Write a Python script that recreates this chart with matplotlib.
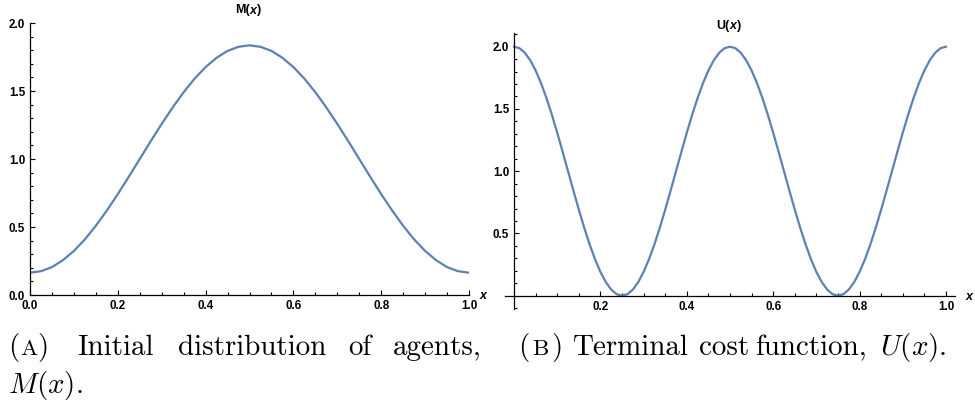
import numpy as np
import matplotlib
matplotlib.use('Agg')
import matplotlib.pyplot as plt
from matplotlib.ticker import MultipleLocator, FixedLocator, FuncFormatter

# M(x): initial distribution, read at x = 0, 0.025, ..., 1
m_x = np.linspace(0, 1, 41)
m_vals = [0.164, 0.175, 0.205, 0.256, 0.324, 0.409, 0.509, 0.621, 0.742, 0.869,
          1.000, 1.131, 1.258, 1.379, 1.491, 1.591, 1.676, 1.744, 1.795, 1.825,
          1.836,
          1.825, 1.795, 1.744, 1.676, 1.591, 1.491, 1.379, 1.258, 1.131, 1.000,
          0.869, 0.742, 0.621, 0.509, 0.409, 0.324, 0.256, 0.205, 0.175, 0.164]

# U(x): terminal cost, read at x = 0, 0.0125, ..., 1
u_x = np.linspace(0, 1, 81)
u_vals = [2.000, 1.988, 1.951, 1.891, 1.809, 1.707, 1.588, 1.454, 1.309, 1.156,
          1.000, 0.844, 0.691, 0.546, 0.412, 0.293, 0.191, 0.109, 0.049, 0.012,
          0.000, 0.012, 0.049, 0.109, 0.191, 0.293, 0.412, 0.546, 0.691, 0.844,
          1.000, 1.156, 1.309, 1.454, 1.588, 1.707, 1.809, 1.891, 1.951, 1.988,
          2.000, 1.988, 1.951, 1.891, 1.809, 1.707, 1.588, 1.454, 1.309, 1.156,
          1.000, 0.844, 0.691, 0.546, 0.412, 0.293, 0.191, 0.109, 0.049, 0.012,
          0.000, 0.012, 0.049, 0.109, 0.191, 0.293, 0.412, 0.546, 0.691, 0.844,
          1.000, 1.156, 1.309, 1.454, 1.588, 1.707, 1.809, 1.891, 1.951, 1.988,
          2.000]

m_xticks = [0.0, 0.2, 0.4, 0.6, 0.8, 1.0]
m_yticks = [0.0, 0.5, 1.0, 1.5, 2.0]
u_xticks = [0.2, 0.4, 0.6, 0.8, 1.0]
u_yticks = [0.5, 1.0, 1.5, 2.0]

W, H = 975, 403
fig = plt.figure(figsize=(9.75, 4.03), dpi=100)


def fx(px):
    return px / W


def fy(py):
    return 1 - py / H


blue = '#5E81B5'
sans = 'Liberation Sans'
fmt = FuncFormatter(lambda v, p: '%.1f' % v)


def style(ax, xt, yt):
    for s in ['top', 'right']:
        ax.spines[s].set_visible(False)
    for s in ['left', 'bottom']:
        ax.spines[s].set_linewidth(0.9)
    ax.xaxis.set_major_locator(FixedLocator(xt))
    ax.yaxis.set_major_locator(FixedLocator(yt))
    ax.xaxis.set_minor_locator(MultipleLocator(0.05))
    ax.yaxis.set_minor_locator(MultipleLocator(0.1))
    ax.xaxis.set_major_formatter(fmt)
    ax.yaxis.set_major_formatter(fmt)
    ax.tick_params(which='both', direction='in', width=0.8)
    ax.tick_params(which='major', length=3.5, pad=3.5)
    ax.tick_params(which='minor', length=2)
    for lab in ax.get_xticklabels() + ax.get_yticklabels():
        lab.set_fontfamily(sans)
        lab.set_fontweight('bold')
        lab.set_fontsize(8.4)
    ax.patch.set_alpha(0)


def title(ax, x0, y0, letter):
    kw = dict(fontfamily=sans, fontweight='bold', fontsize=9)
    t1 = fig.text(fx(x0), fy(y0), letter + '(', va='baseline', **kw)
    t2 = ax.annotate('x', xy=(1, 0), xycoords=t1, va='bottom',
                     fontstyle='italic', annotation_clip=False, **kw)
    ax.annotate(')', xy=(1, 0), xycoords=t2, va='bottom',
                annotation_clip=False, **kw)


# left panel
ax1 = fig.add_axes([fx(30), fy(295), fx(469) - fx(30), fy(23) - fy(295)])
ax1.plot(m_x, m_vals, color=blue, lw=1.6)
ax1.set_xlim(0, 1)
ax1.set_ylim(0, 2)
style(ax1, m_xticks, m_yticks)
title(ax1, 235, 13.5, 'M')
fig.text(fx(480), fy(299), 'x', fontfamily=sans, fontweight='bold',
         fontstyle='italic', fontsize=9, va='baseline')

# right panel
ax2 = fig.add_axes([fx(505.4), fy(309.4), fx(954.6) - fx(505.4),
                    fy(33) - fy(309.4)])
ax2.plot(u_x, u_vals, color=blue, lw=1.6)
ax2.set_xlim(-0.02, 1.02)
ax2.set_ylim(-0.11, 2.11)
ax2.spines['left'].set_position(('data', 0))
ax2.spines['bottom'].set_position(('data', 0))
style(ax2, u_xticks, u_yticks)
title(ax2, 716.5, 29, 'U')
fig.text(fx(966), fy(300), 'x', fontfamily=sans, fontweight='bold',
         fontstyle='italic', fontsize=9, va='baseline')

# captions
cap = dict(fontfamily='cmr10', fontsize=20.9, va='baseline', math_fontfamily='cm')
sc = dict(cap, fontsize=16.6)
base1, base2 = 355, 393

fig.text(fx(8), fy(base1), '(', **cap)
fig.text(fx(28.5), fy(base1), 'A', ha='center', **sc)
fig.text(fx(48.5), fy(base1), ')', ha='right', **cap)
for word, left in [('Initial', 77), ('distribution', 178), ('of', 348), ('agents,', 393)]:
    fig.text(fx(left), fy(base1), word, **cap)
fig.text(fx(8), fy(base2), r'$M(x)$.', **cap)

fig.text(fx(518), fy(base1), '(', **cap)
fig.text(fx(540), fy(base1), 'B', ha='center', **sc)
fig.text(fx(562.5), fy(base1), ')', ha='right', **cap)
for word, left in [('Terminal', 573), ('cost', 699), ('function,', 755)]:
    fig.text(fx(left), fy(base1), word, **cap)
fig.text(fx(947), fy(base1), r'$U(x)$.', ha='right', **cap)

fig.savefig('out.png', dpi=100)
